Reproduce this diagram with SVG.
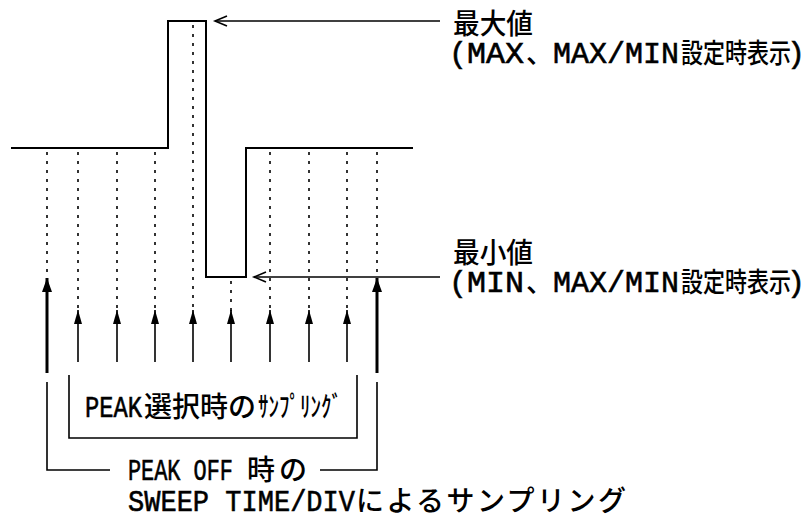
<svg xmlns="http://www.w3.org/2000/svg" width="805" height="518" viewBox="0 0 805 518">
<defs>
<style>
.wave{fill:none;stroke:#000;stroke-width:2}
.dash{stroke:#000;stroke-width:1.6;stroke-dasharray:3 6}
.thin{stroke:#000;stroke-width:1.6}
.thick{stroke:#000;stroke-width:3}
.lead{fill:none;stroke:#000;stroke-width:1.6}
.l{font-family:"Liberation Mono",monospace;font-size:30px;fill:#000;stroke:#000;stroke-width:0.6}
.j{font-family:"Noto Sans CJK JP",sans-serif;font-size:27px;font-weight:500;fill:#000}
.jb{font-family:"Noto Sans CJK JP",sans-serif;font-size:28px;font-weight:500;fill:#000}
</style>
<marker id="ah" viewBox="-14 -4 14 8" refX="0" refY="0" markerWidth="14" markerHeight="8" markerUnits="userSpaceOnUse" orient="auto">
<path d="M0 0 L-14 -4 L-14 4 Z" fill="#000"/>
</marker>
<marker id="ahk" viewBox="-14 -5 14 10" refX="0" refY="0" markerWidth="14" markerHeight="10" markerUnits="userSpaceOnUse" orient="auto">
<path d="M0 0 L-14 -5 L-14 5 Z" fill="#000"/>
</marker>
</defs>
<g id="waveform">
<path class="wave" d="M11 148 H168 V21 H206 V277 H246 V148 H413"/>
</g>
<g id="connectors">
<line class="dash" x1="47" y1="152" x2="47" y2="280"/>
<line class="dash" x1="78" y1="152" x2="78" y2="312"/>
<line class="dash" x1="117" y1="152" x2="117" y2="312"/>
<line class="dash" x1="155" y1="152" x2="155" y2="312"/>
<line class="dash" x1="193" y1="25" x2="193" y2="312"/>
<line class="dash" x1="231" y1="281" x2="231" y2="312"/>
<line class="dash" x1="270" y1="152" x2="270" y2="312"/>
<line class="dash" x1="309" y1="152" x2="309" y2="312"/>
<line class="dash" x1="347" y1="152" x2="347" y2="312"/>
<line class="dash" x1="377" y1="152" x2="377" y2="280"/>
<line class="thin" x1="78" y1="362" x2="78" y2="310" marker-end="url(#ah)"/>
<line class="thin" x1="117" y1="362" x2="117" y2="310" marker-end="url(#ah)"/>
<line class="thin" x1="155" y1="362" x2="155" y2="310" marker-end="url(#ah)"/>
<line class="thin" x1="193" y1="362" x2="193" y2="310" marker-end="url(#ah)"/>
<line class="thin" x1="231" y1="362" x2="231" y2="310" marker-end="url(#ah)"/>
<line class="thin" x1="270" y1="362" x2="270" y2="310" marker-end="url(#ah)"/>
<line class="thin" x1="309" y1="362" x2="309" y2="310" marker-end="url(#ah)"/>
<line class="thin" x1="347" y1="362" x2="347" y2="310" marker-end="url(#ah)"/>
<line class="thick" x1="47" y1="373" x2="47" y2="278" marker-end="url(#ahk)"/>
<line class="thick" x1="377" y1="373" x2="377" y2="278" marker-end="url(#ahk)"/>
<path class="lead" d="M69 375 V438 H357 V375"/>
<path class="lead" d="M47 382 V470 H110"/>
<path class="lead" d="M320 470 H377 V382"/>
<line class="lead" x1="215" y1="21" x2="440" y2="21"/>
<path class="lead" d="M227 16 L215 21 L227 26"/>
<line class="lead" x1="254" y1="277" x2="440" y2="277"/>
<path class="lead" d="M266 272 L254 277 L266 282"/>
</g>
<g id="label-max">
<text class="jb" x="453" y="34" textLength="80" lengthAdjust="spacingAndGlyphs">最大値</text>
<text class="l" x="449" y="63">(</text>
<text class="l" x="467" y="63" textLength="57" lengthAdjust="spacingAndGlyphs">MAX</text>
<text class="j" x="526" y="63">、</text>
<text class="l" x="553" y="63" textLength="126" lengthAdjust="spacingAndGlyphs">MAX/MIN</text>
<text class="j" x="681" y="63" textLength="110" lengthAdjust="spacingAndGlyphs">設定時表示</text>
<text class="l" x="787" y="63">)</text>
</g>
<g id="label-min">
<text class="jb" x="453" y="263" textLength="80" lengthAdjust="spacingAndGlyphs">最小値</text>
<text class="l" x="449" y="292">(</text>
<text class="l" x="467" y="292" textLength="57" lengthAdjust="spacingAndGlyphs">MIN</text>
<text class="j" x="526" y="292">、</text>
<text class="l" x="553" y="292" textLength="126" lengthAdjust="spacingAndGlyphs">MAX/MIN</text>
<text class="j" x="681" y="292" textLength="110" lengthAdjust="spacingAndGlyphs">設定時表示</text>
<text class="l" x="787" y="292">)</text>
</g>
<g id="label-peak">
<text class="l" x="85" y="417" textLength="57" lengthAdjust="spacingAndGlyphs">PEAK</text>
<text class="jb" x="144" y="417" textLength="112" lengthAdjust="spacingAndGlyphs">選択時の</text>
<text class="jb" x="258" y="417" textLength="84" lengthAdjust="spacingAndGlyphs">ｻﾝﾌﾟﾘﾝｸﾞ</text>
</g>
<g id="label-peakoff">
<text class="l" x="128" y="480" textLength="105" lengthAdjust="spacingAndGlyphs">PEAK OFF</text>
<text class="jb" x="247" y="480" textLength="60" lengthAdjust="spacing">時の</text>
<text class="l" x="128" y="511" textLength="227" lengthAdjust="spacingAndGlyphs">SWEEP TIME/DIV</text>
<text class="jb" x="356" y="511" textLength="270" lengthAdjust="spacing">によるサンプリング</text>
</g>
</svg>
